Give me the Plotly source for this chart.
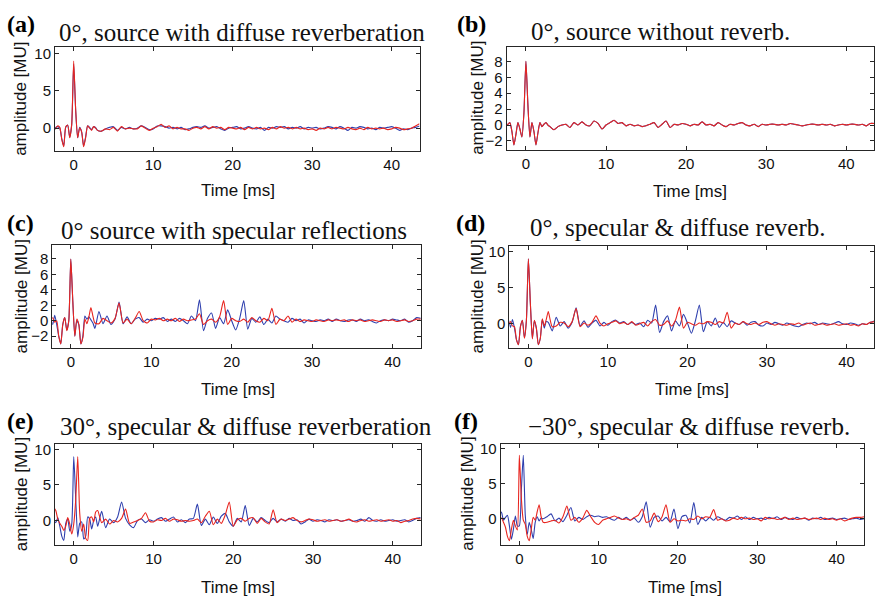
import plotly.graph_objects as go

# ---------------- data ----------------
# time grid [ms]: 0.25 ms around the onset, 0.5 ms afterwards
time_ms = [-2.5, -2.25, -2.0, -1.75, -1.5, -1.25, -1.0, -0.75, -0.5, -0.25,
           0.0, 0.25, 0.5, 0.75, 1.0, 1.25, 1.5, 1.75, 2.0, 2.25, 2.5, 2.75, 3.0,
           3.5, 4.0, 4.5, 5.0, 5.5, 6.0, 6.5, 7.0, 7.5, 8.0,
           8.5, 9.0, 9.5, 10.0, 10.5, 11.0, 11.5, 12.0, 12.5, 13.0,
           13.5, 14.0, 14.5, 15.0, 15.5, 16.0, 16.5, 17.0, 17.5, 18.0,
           18.5, 19.0, 19.5, 20.0, 20.5, 21.0, 21.5, 22.0, 22.5, 23.0,
           23.5, 24.0, 24.5, 25.0, 25.5, 26.0, 26.5, 27.0, 27.5, 28.0,
           28.5, 29.0, 29.5, 30.0, 30.5, 31.0, 31.5, 32.0, 32.5, 33.0,
           33.5, 34.0, 34.5, 35.0, 35.5, 36.0, 36.5, 37.0, 37.5, 38.0,
           38.5, 39.0, 39.5, 40.0, 40.5, 41.0, 41.5, 42.0, 42.5, 43.0,
           43.5]

# (a) 0 deg, diffuse reverberation
a_blue = [-0.4, 0.1, 0.2, 0.0, -1.4, -2.4, 0.1, 0.4, -1.2, 0.4,
          8.6, 2.4, -1.3, 0.1, -0.5, -2.4, -1.2, 0.3, 0.1, -0.2, 0.2, 0.1, -0.3,
          -0.4, -0.1, 0.1, 0.2, -0.3, 0.1, -0.1, 0.1, -0.1, 0.0,
          0.3, 0.1, -0.2, -0.1, 0.3, 0.3, 0.2, 0.0, 0.1, -0.1,
          0.1, -0.2, -0.1, 0.1, 0.2, 0.1, 0.3, 0.0, 0.1, 0.2,
          -0.1, -0.3, 0.0, 0.1, 0.2, -0.1, 0.0, 0.2, 0.0, -0.1,
          0.1, -0.3, 0.1, 0.0, 0.2, 0.1, 0.2, -0.1, 0.1, 0.0,
          0.2, -0.1, 0.1, 0.0, 0.1, -0.1, 0.0, 0.2, 0.1, -0.1,
          0.2, 0.0, -0.3, 0.1, 0.0, 0.2, 0.1, -0.1, 0.0, -0.2,
          0.1, 0.0, 0.1, 0.2, 0.0, -0.3, -0.1, -0.2, 0.0, 0.1,
          0.3]
a_red = [-0.3, 0.0, 0.3, 0.1, -1.5, -2.5, 0.2, 0.4, -1.3, 0.5,
         9.0, 2.5, -1.3, 0.0, -0.5, -2.5, -1.3, 0.3, 0.0, -0.3, 0.2, 0.0, -0.3,
         -0.4, -0.1, -0.2, 0.1, -0.4, 0.2, -0.1, 0.0, -0.1, -0.1,
         0.3, 0.0, -0.3, 0.0, 0.2, 0.5, 0.1, 0.3, -0.1, 0.1,
         -0.1, -0.1, -0.3, 0.0, 0.1, -0.1, 0.2, -0.1, 0.2, 0.0,
         0.1, -0.2, 0.1, 0.0, -0.1, 0.1, -0.2, 0.1, -0.1, 0.1,
         -0.1, 0.0, -0.2, 0.1, -0.1, 0.2, 0.0, 0.1, -0.1, 0.1,
         -0.1, 0.0, -0.2, -0.1, -0.3, 0.0, -0.1, 0.1, -0.1, 0.1,
         0.0, -0.1, 0.1, -0.1, -0.2, 0.0, -0.2, 0.1, -0.1, 0.0,
         -0.1, 0.0, -0.2, -0.1, 0.1, 0.0, -0.2, -0.1, 0.0, 0.3,
         0.6]

# (b) 0 deg, no reverberation (both ears identical)
b_both = [0.0, 0.1, 0.3, -0.8, -2.5, -1.2, 0.3, -0.5, -1.5, 1.5,
          8.0, 2.5, -1.5, 0.3, -0.8, -2.5, -1.0, 0.3, -0.2, 0.1, 0.3, 0.0, -0.2,
          -0.6, -0.2, 0.0, 0.1, -0.3, 0.3, 0.0, 0.4, 0.0, -0.1,
          0.5, 0.2, -0.5, 0.0, 0.3, 0.6, 0.2, 0.3, -0.1, 0.1,
          -0.1, 0.0, -0.2, -0.1, 0.1, 0.3, -0.3, 0.1, 0.5, -0.3,
          0.1, 0.0, 0.2, 0.1, -0.1, 0.1, 0.0, 0.4, 0.0, 0.1,
          -0.1, 0.3, 0.0, -0.2, 0.1, 0.0, 0.2, 0.3, 0.0, -0.1,
          0.1, -0.2, 0.1, 0.0, 0.1, 0.1, 0.0, 0.1, 0.0, 0.2,
          0.1, 0.0, -0.1, 0.0, 0.1, 0.1, 0.0, 0.1, 0.0, 0.1,
          -0.1, 0.0, 0.1, 0.0, 0.1, 0.1, 0.0, 0.1, -0.1, 0.2,
          0.2]

# (c) 0 deg, specular reflections
c_blue = [0.3, -0.5, 0.7, -0.5, -2.0, -3.0, -0.5, 0.4, -1.2, 0.0,
          8.0, 2.5, -2.0, 0.0, -0.5, -3.0, -2.0, 0.6, 0.2, 0.5, 0.1, -0.3, -1.0,
          1.2, -0.4, 0.6, -0.5, 0.2, 2.4, -0.4, 0.5, -0.4, 0.2,
          0.4, -0.2, 0.2, 0.0, 0.3, 0.2, 0.4, -0.1, 0.2, -0.1,
          0.3, 0.0, -0.4, 0.6, 0.0, 2.7, -1.3, 0.3, 1.0, -1.0,
          0.4, -0.4, 1.4, 0.0, -1.2, 0.3, 2.6, -1.1, 0.3, -0.2,
          0.5, -0.5, 0.2, -0.3, 0.6, 0.2, 0.0, -0.2, 0.3, 0.0,
          0.2, -0.3, 0.1, 0.0, -0.1, 0.1, 0.0, 0.2, -0.1, 0.2,
          0.0, -0.1, 0.1, 0.1, -0.1, 0.2, 0.0, 0.1, -0.1, -0.3,
          0.0, 0.1, 0.0, 0.2, 0.1, 0.0, 0.2, -0.2, 0.0, 0.4,
          0.3]
c_red = [0.0, 0.4, -0.2, 0.0, -2.0, -3.0, -0.5, 0.4, -1.3, 0.0,
         8.0, 2.5, -2.0, 0.2, -0.5, -3.0, -2.2, 0.2, -0.4, 0.5, 1.7, 0.6, -0.3,
         -0.4, 0.3, 0.0, -0.3, 0.3, 2.3, -0.3, 0.2, -0.4, 0.3,
         1.2, 0.0, -0.3, 0.2, 0.1, 0.3, 0.0, 0.2, 0.0, 0.3,
         -0.1, 0.2, 0.0, 0.1, 0.2, 0.9, -0.5, 0.0, 0.2, -0.2,
         0.5, 2.6, -0.5, 0.3, 0.0, -0.1, 0.2, -0.2, 0.4, 0.0,
         -0.2, 0.3, 0.0, 1.6, -0.5, 0.2, 0.0, 0.6, -0.2, 0.2,
         -0.1, 0.1, 0.0, -0.1, 0.1, 0.0, -0.1, 0.1, 0.0, 0.1,
         0.0, 0.1, -0.1, 0.1, 0.0, 0.1, -0.1, 0.0, 0.1, 0.0,
         -0.1, 0.1, 0.0, 0.1, -0.1, 0.0, 0.1, -0.1, 0.0, 0.2,
         0.2]

# (d) 0 deg, specular & diffuse
d_blue = [0.5, -0.5, 0.6, -0.6, -2.2, -2.9, -0.4, 0.5, -1.9, 0.5,
          9.0, 2.8, -2.0, 0.4, -0.6, -2.9, -2.0, 0.6, -0.6, 0.3, 0.2, -0.4, -1.0,
          0.9, -0.3, 0.3, -0.6, 0.2, 2.2, -0.3, 0.4, -0.5, 0.1,
          0.5, -0.3, 0.2, -0.2, 0.3, 0.5, 0.1, 0.3, -0.1, 0.2,
          -0.1, 0.1, -0.4, 0.5, 0.1, 2.6, -1.2, 0.3, 1.1, -1.0,
          0.4, -0.3, 1.3, 0.1, -1.3, 0.4, 2.6, -1.1, 0.3, -0.3,
          0.8, -0.5, 0.2, -0.4, 0.4, 0.1, -0.1, 0.3, -0.2, 0.2,
          0.3, -0.2, -0.3, 0.1, -0.1, 0.2, 0.0, -0.2, 0.1, -0.1,
          -0.3, -0.4, -0.1, 0.1, 0.0, 0.2, -0.1, 0.1, 0.0, -0.1,
          0.1, 0.3, 0.0, -0.1, 0.1, 0.0, -0.2, 0.0, -0.1, 0.2,
          0.4]
d_red = [0.0, 0.3, -0.3, -0.4, -2.2, -2.9, -0.4, 0.5, -2.0, 0.5,
         9.0, 2.8, -2.1, 0.5, -0.6, -2.9, -2.0, 0.7, -0.3, 0.6, 1.7, 0.5, -0.4,
         -0.3, 0.2, 0.1, -0.4, 0.3, 2.1, -0.4, 0.1, -0.2, 0.2,
         1.1, 0.1, -0.3, 0.0, 0.2, 0.4, 0.0, 0.2, -0.1, 0.3,
         -0.2, 0.0, 0.2, -0.3, 0.3, 0.6, -0.2, -0.1, 0.4, -0.3,
         0.5, 2.3, -0.6, 0.2, 0.0, -0.2, 0.1, 0.0, 0.3, 0.2,
         -0.1, 0.3, 0.1, 1.6, -0.6, 0.1, -0.1, 0.3, 0.0, -0.1,
         0.1, -0.1, 0.2, 0.3, 0.0, -0.2, 0.0, -0.1, -0.2, 0.0,
         -0.1, 0.1, -0.2, 0.0, 0.1, -0.2, -0.1, 0.0, -0.2, -0.1,
         0.0, -0.2, -0.1, 0.0, -0.2, -0.1, -0.3, 0.0, -0.1, 0.2,
         0.3]

# (e) 30 deg, specular & diffuse
e_blue = [0.0, -0.3, 0.4, -0.8, -2.2, -2.8, -0.4, 0.2, -1.5, -0.5,
          9.0, 3.0, -2.3, -0.4, -0.2, -2.6, -2.2, 0.5, 0.2, -1.2, 0.0, 0.5, -0.8,
          1.3, -1.0, 0.2, -0.3, 0.5, 2.6, 0.3, -0.6, -1.0, 0.0,
          0.2, -0.3, 0.1, -0.1, 0.2, 0.4, -0.1, 0.2, 0.5, -0.2,
          0.1, -0.3, 0.2, 0.3, 2.3, -0.7, 0.2, -0.6, 0.5, -0.4,
          0.6, 1.0, -0.2, -0.8, 0.3, -0.2, 2.1, -0.7, 0.3, -0.2,
          0.4, 0.0, -0.3, 0.3, -0.2, 0.2, -0.1, 0.3, 0.0, 0.1,
          -0.5, -0.2, 0.2, -0.1, 0.1, 0.0, -0.2, 0.1, 0.0, 0.1,
          -0.1, 0.0, 0.1, -0.1, 0.0, 0.2, -0.1, 0.4, 0.0, -0.1,
          0.1, -0.1, 0.0, 0.1, -0.1, 0.0, 0.1, -0.2, 0.0, 0.3,
          0.4]
e_red = [1.8, 1.4, 0.2, -0.4, -0.8, -1.4, -0.8, 0.4, -0.5, -1.9,
         -0.5, 3.0, 9.0, 1.0, -1.5, -0.5, -2.5, -2.8, 0.3, 0.5, -0.2, 1.2, 1.4,
         -0.3, 0.2, -0.5, 0.0, -0.2, 0.3, 1.6, -0.4, -0.2, 0.0,
         0.3, 1.1, -0.1, -0.2, 0.1, 0.0, 0.3, -0.1, 0.2, 0.1,
         -0.1, 0.0, -0.1, 0.0, 0.2, -0.3, 0.6, 1.3, -0.6, 0.2,
         -0.4, 0.8, 2.6, -0.8, 0.1, 0.3, -0.1, 0.3, 0.4, -0.4,
         0.3, -0.2, -0.5, 1.5, -0.3, 0.2, 0.0, 0.2, 0.4, 0.0,
         -0.2, 0.0, 0.2, 0.1, -0.1, 0.0, 0.1, -0.1, 0.0, 0.1,
         -0.1, 0.0, 0.2, -0.1, -0.2, 0.0, 0.1, -0.1, 0.0, 0.1,
         -0.1, 0.0, 0.1, -0.1, 0.0, -0.3, -0.1, 0.0, 0.2, 0.3,
         0.2]

# (f) -30 deg, specular & diffuse
f_blue = [1.0, 0.9, -0.2, 0.2, 0.5, -1.0, -2.9, -1.5, 0.4, -1.0,
          -1.0, 4.0, 9.0, 0.5, -2.2, -0.5, -1.5, -2.8, -0.5, 0.3, -0.3, 0.1, 0.0,
          0.3, 0.7, -0.3, 0.1, -0.4, 0.5, 1.6, -0.3, 0.2, -0.1,
          0.3, 0.5, 0.3, 0.4, 0.2, 0.3, 0.0, -0.2, 0.2, -0.1,
          0.2, -0.2, 0.1, -0.5, 0.3, 2.4, -1.2, 0.2, 0.4, -0.3,
          0.2, -0.4, 1.4, -1.4, 0.3, 0.5, -0.6, 2.3, -0.8, 0.2,
          -0.3, 0.2, -0.2, 0.3, 0.0, -0.2, 0.2, 0.1, 0.4, -0.1,
          0.3, -0.1, 0.2, 0.0, 0.1, -0.1, 0.2, 0.0, 0.3, -0.1,
          0.2, 0.0, -0.1, 0.2, 0.0, 0.1, -0.2, 0.1, 0.0, 0.2,
          -0.1, 0.0, 0.1, -0.1, 0.0, 0.1, -0.1, 0.0, 0.1, -0.1,
          0.0]
f_red = [0.0, 0.1, -0.5, -1.2, -2.5, -3.1, -1.5, -0.2, -1.0, -1.6,
         9.0, 3.0, -0.2, -0.8, -2.5, -3.1, -1.5, 0.2, -0.2, 1.0, 2.0, 0.3, -0.5,
         -0.5, -0.3, -0.2, -0.6, 0.3, 1.8, -0.2, 0.2, -0.5, 0.1,
         1.2, 0.3, -0.5, -0.8, -0.2, 0.0, 0.2, 0.4, 0.1, -0.1,
         0.0, -0.2, 0.2, 0.5, 1.4, -0.5, -0.3, 0.8, -0.4, 0.3,
         2.0, -0.5, 0.0, -0.3, -0.2, -0.3, 0.0, -0.1, 0.4, 0.0,
         0.3, 0.2, 1.3, -0.2, 0.0, -0.3, -0.2, 0.1, -0.1, 0.2,
         0.0, 0.1, -0.1, 0.0, -0.3, 0.2, 0.0, 0.1, -0.1, 0.0,
         0.2, -0.1, 0.1, -0.1, 0.0, 0.1, -0.1, 0.0, 0.1, -0.1,
         0.1, -0.1, 0.0, -0.2, 0.0, -0.3, -0.1, 0.1, 0.2, 0.2,
         0.3]

panel_letters = ["(a)", "(b)", "(c)", "(d)", "(e)", "(f)"]
panel_titles = ["0°, source with diffuse reverberation",
                "0°, source without reverb.",
                "0° source with specular reflections",
                "0°, specular &amp; diffuse reverb.",
                "30°, specular &amp; diffuse reverberation",
                "−30°, specular &amp; diffuse reverb."]
x_ticks = [0, 10, 20, 30, 40]
y_ticks_big = [0, 5, 10]
y_ticks_small = [-2, 0, 2, 4, 6, 8]

# ---------------- layout (pixel geometry) ----------------
W, H = 876, 599
BLUE = "#2e3fae"
RED = "#e8251f"

panels = [
    dict(b=a_blue, r=a_red, box=(55, 419.5, 43, 148), xr=[-2.35, 43.5], yr=[-3.07, 10.93], yt=y_ticks_big,
         tp=(242, 28.5), lp=(5, 20), ylx=21, xlp=(238, 188)),
    dict(b=b_both, r=b_both, box=(506.7, 874.3, 43.3, 146.7), xr=[-2.4, 43.5], yr=[-3.1, 9.8], yt=y_ticks_small,
         tp=(660, 27.5), lp=(455, 20.5), ylx=477.5, xlp=(690, 189)),
    dict(b=c_blue, r=c_red, box=(52.3, 420.7, 242.7, 346), xr=[-2.3, 43.5], yr=[-3.5, 9.8], yt=y_ticks_small,
         tp=(233.7, 228), lp=(5, 220), ylx=21, xlp=(237.5, 388.5)),
    dict(b=d_blue, r=d_red, box=(509.3, 874.3, 243.3, 346.7), xr=[-2.4, 43.5], yr=[-3.4, 10.8], yt=y_ticks_big,
         tp=(678, 225.5), lp=(454, 220), ylx=477.5, xlp=(692, 388.5)),
    dict(b=e_blue, r=e_red, box=(55, 420.7, 442.7, 544.3), xr=[-2.35, 43.5], yr=[-3.4, 10.8], yt=y_ticks_big,
         tp=(246, 425.5), lp=(5, 420), ylx=21, xlp=(238, 587)),
    dict(b=f_blue, r=f_red, box=(500.7, 864.3, 442.7, 544.3), xr=[-2.35, 43.5], yr=[-3.67, 10.65], yt=y_ticks_big,
         tp=(689, 425.5), lp=(452, 420), ylx=467.5, xlp=(684.5, 587)),
]

fig = go.Figure()
annotations = []
axis_common = dict(showline=True, linecolor="#262626", linewidth=1, mirror="ticks",
                   ticks="inside", ticklen=4, tickwidth=1, tickcolor="#262626",
                   showgrid=False, zeroline=False,
                   tickfont=dict(family="Liberation Sans, Arial, sans-serif", size=15, color="#111"))

layout_axes = {}
for i, p in enumerate(panels):
    n = i + 1
    xa = "x" if n == 1 else f"x{n}"
    ya = "y" if n == 1 else f"y{n}"
    x0, x1, y0, y1 = p["box"]
    layout_axes["xaxis" if n == 1 else f"xaxis{n}"] = dict(
        axis_common, domain=[x0 / W, x1 / W], range=p["xr"], tickvals=x_ticks,
        anchor=ya)
    layout_axes["yaxis" if n == 1 else f"yaxis{n}"] = dict(
        axis_common, domain=[1 - y1 / H, 1 - y0 / H], range=p["yr"], tickvals=p["yt"],
        anchor=xa)
    for vals, col in ((p["b"], BLUE), (p["r"], RED)):
        fig.add_trace(go.Scatter(x=time_ms, y=vals, mode="lines", xaxis=xa, yaxis=ya,
                                 line=dict(color=col, width=1.1, shape="spline", smoothing=0.6),
                                 showlegend=False, hoverinfo="skip"))
    tx, ty = p["tp"]
    annotations.append(dict(text=panel_titles[i], x=tx / W, y=1 - ty / H, xref="paper", yref="paper",
                            xanchor="center", yanchor="middle", showarrow=False,
                            font=dict(family="Liberation Serif, Times New Roman, serif", size=25, color="#111")))
    lx, ly = p["lp"]
    annotations.append(dict(text="<b>" + panel_letters[i] + "</b>", x=lx / W, y=1 - ly / H,
                            xref="paper", yref="paper", xanchor="left", yanchor="middle", showarrow=False,
                            font=dict(family="Liberation Serif, Times New Roman, serif", size=24, color="#000")))
    annotations.append(dict(text="amplitude [MU]", x=p["ylx"] / W, y=1 - ((y0 + y1) / 2) / H,
                            xref="paper", yref="paper", xanchor="center", yanchor="middle",
                            textangle=-90, showarrow=False,
                            font=dict(family="Liberation Sans, Arial, sans-serif", size=17, color="#111")))
    xlx, xly = p["xlp"]
    annotations.append(dict(text="Time [ms]", x=xlx / W, y=1 - xly / H, xref="paper", yref="paper",
                            xanchor="center", yanchor="middle", showarrow=False,
                            font=dict(family="Liberation Sans, Arial, sans-serif", size=17, color="#111")))

fig.update_layout(width=W, height=H, margin=dict(l=0, r=0, t=0, b=0),
                  paper_bgcolor="white", plot_bgcolor="white",
                  annotations=annotations, showlegend=False, **layout_axes)

fig.write_html("out.html", config={"displayModeBar": False},
               post_script="document.body.style.margin='0';document.body.style.overflow='hidden';")
